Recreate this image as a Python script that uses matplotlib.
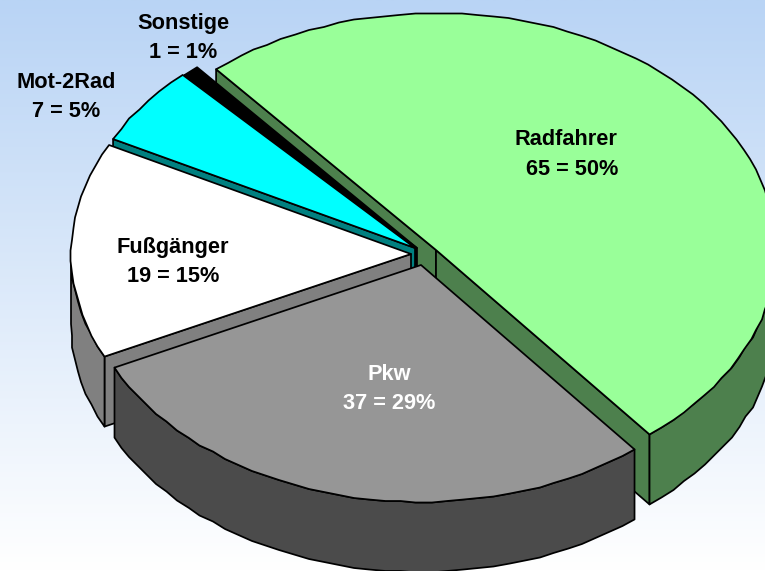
import numpy as np
import matplotlib
matplotlib.use("Agg")
import matplotlib.pyplot as plt
from matplotlib.patches import Polygon
from matplotlib.colors import LinearSegmentedColormap

# values in clockwise pie order
pie_names = ["Radfahrer", "Pkw", "Fußgänger", "Mot-2Rad", "Sonstige"]
pie_values = [65, 37, 19, 7, 1]
pie_percent = [50, 29, 15, 5, 1]
top_colors = ["#99ff99", "#969696", "#ffffff", "#00ffff", "#000000"]
side_colors = ["#4d804d", "#4b4b4b", "#808080", "#008080", "#000000"]
text_colors = ["black", "white", "black", "black", "black"]
apex_x = [436, 421, 411, 415, 417]
apex_y = [250, 265, 254, 248, 248]
label_x = [566, 389, 173, 66, 183]
label_y = [154.5, 389, 262, 97, 38]
label_pad = ["  ", "", "", "", ""]
draw_order = [0, 4, 3, 2, 1]

RX, RY, DEPTH, START = 340.0, 237.0, 70.0, 130.3
LW = 1.25
GRID = 1.5
STEP_DEG = 2.6

plt.rcParams["font.family"] = ["Liberation Sans", "DejaVu Sans"]
fig = plt.figure(figsize=(7.65, 5.71), dpi=100)
ax = fig.add_axes([0, 0, 1, 1])
ax.set_xlim(0, 765)
ax.set_ylim(571, 0)
ax.axis("off")

cmap = LinearSegmentedColormap.from_list("bg", ["#b9d4f5", "#ffffff"])
ax.imshow(np.linspace(0, 1, 256).reshape(-1, 1), cmap=cmap, aspect="auto",
          extent=(0, 765, 571, 0), zorder=0, interpolation="bilinear")

total = sum(pie_values)
edges = START - np.cumsum([0] + pie_values) / total * 360.0


def rim_point(cx, cy, t):
    r = np.radians(t)
    return cx + RX * np.cos(r), cy - RY * np.sin(r)


def arc(cx, cy, t0, t1, dy=0.0):
    # coarse vertex grid reproduces the slightly wobbly outline of the original
    n = max(2, int(abs(t1 - t0) / STEP_DEG) + 1)
    t = np.linspace(t0, t1, n)
    x, y = rim_point(cx, cy, t)
    inner = slice(1, -1)
    x[inner] = np.round(x[inner] / GRID) * GRID
    y[inner] = np.round(y[inner] / GRID) * GRID
    return np.column_stack([x, y + dy])


z = 1
for i in draw_order:
    t0, t1 = edges[i], edges[i + 1]   # t0 > t1 (clockwise)
    cx, cy = apex_x[i], apex_y[i]
    style = dict(edgecolor="black", linewidth=LW, joinstyle="round", clip_on=True)
    # radial cut walls that face the viewer
    for t, normal in ((t0, t0 + 90), (t1, t1 - 90)):
        if np.sin(np.radians(normal)) < 0:
            c = rim_point(cx, cy, t)
            quad = [(cx, cy), c, (c[0], c[1] + DEPTH), (cx, cy + DEPTH)]
            ax.add_patch(Polygon(quad, closed=True, facecolor=side_colors[i], zorder=z, **style))
            z += 1
    # outer wall: only the part of the rim that faces the viewer
    for lo, hi in ((-180, 0), (-540, -360)):
        a, b = max(t1, lo), min(t0, hi)
        if b > a:
            top = arc(cx, cy, b, a)
            bot = top[::-1] + np.array([0, DEPTH])
            ax.add_patch(Polygon(np.vstack([top, bot]), closed=True,
                                 facecolor=side_colors[i], zorder=z, **style))
            z += 1
    # top face
    ax.add_patch(Polygon(np.vstack([[[cx, cy]], arc(cx, cy, t0, t1)]), closed=True,
                         facecolor=top_colors[i], zorder=z, **style))
    z += 1

for i, name in enumerate(pie_names):
    ax.text(label_x[i], label_y[i],
            f"{name}\n{label_pad[i]}{pie_values[i]} = {pie_percent[i]}%",
            ha="center", va="center", ma="center", fontsize=15.7, fontweight="bold",
            color=text_colors[i], linespacing=1.545, zorder=z + 1)

fig.savefig("out.png", dpi=100)
